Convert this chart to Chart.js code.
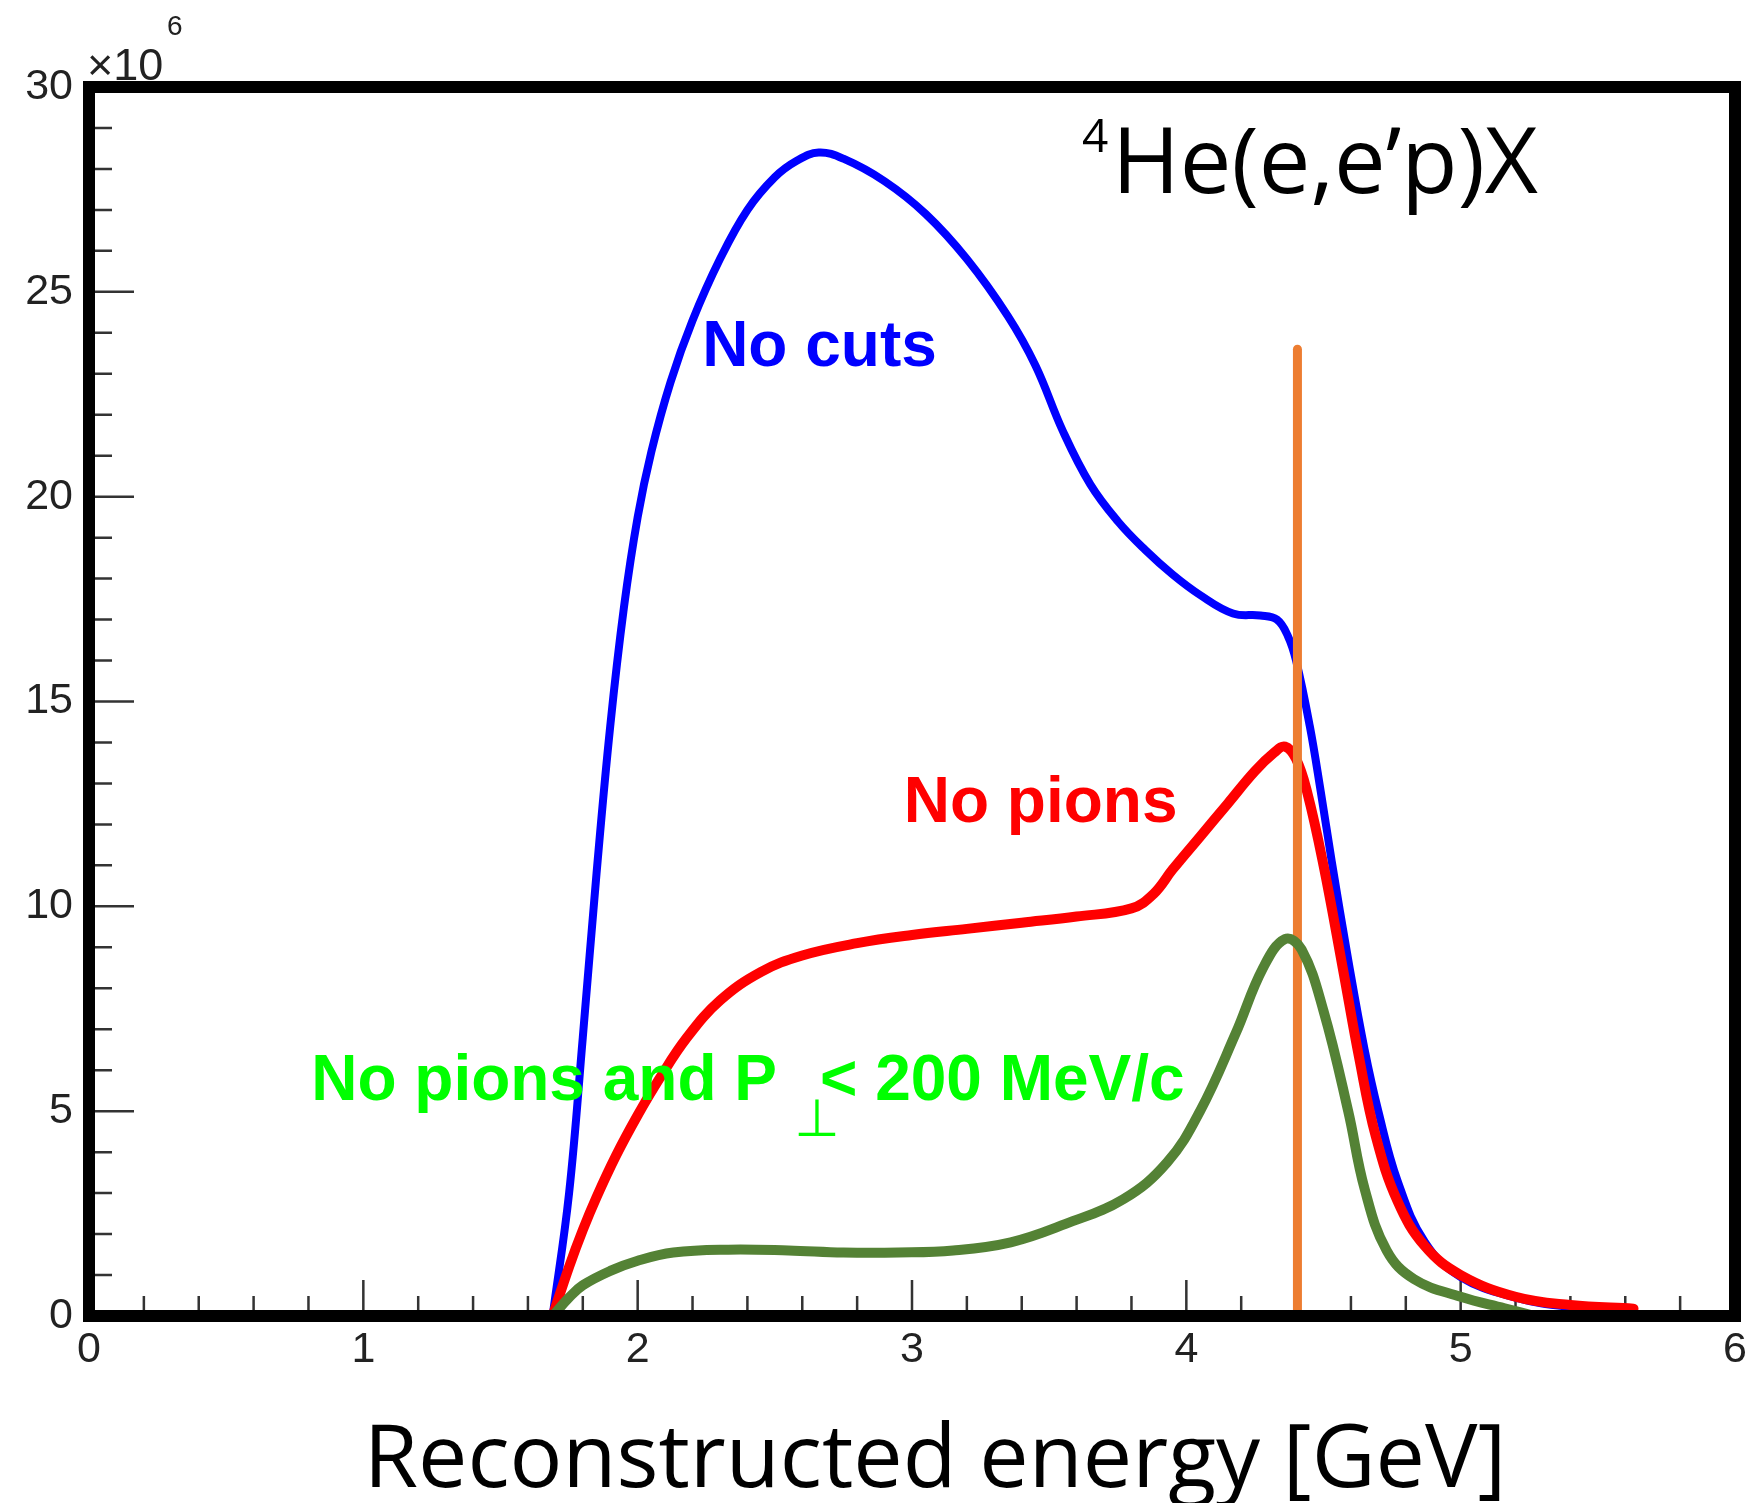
<!DOCTYPE html>
<html>
<head>
<meta charset="utf-8">
<title>Reconstructed energy</title>
<script src="https://cdn.jsdelivr.net/npm/chart.js@4.4.1/dist/chart.umd.min.js"></script>
<style>
  html, body { margin: 0; padding: 0; background: #fff; }
  #wrap { width: 1760px; height: 1503px; }
</style>
</head>
<body>
<div id="wrap"><canvas id="energyChart" width="1760" height="1503"></canvas></div>
<script>
// counts in units of 10^6 against reconstructed energy (GeV)
const noCutsE = [1.69, 1.75, 1.80, 1.85, 1.90, 1.95, 2.00, 2.05, 2.12, 2.20, 2.30, 2.40, 2.50, 2.58, 2.66, 2.75, 2.90, 3.05, 3.20, 3.35, 3.45, 3.55, 3.65, 3.75, 3.85, 3.95, 4.05, 4.17, 4.27, 4.33, 4.37, 4.40, 4.45, 4.49, 4.53, 4.59, 4.65, 4.70, 4.77, 4.87, 5.00, 5.20, 5.40, 5.63];
const noCutsN = [0, 3.0, 6.8, 10.8, 14.4, 17.3, 19.5, 21.1, 22.8, 24.3, 25.8, 27.0, 27.8, 28.2, 28.4, 28.25, 27.7, 26.9, 25.8, 24.4, 23.2, 21.6, 20.3, 19.4, 18.7, 18.1, 17.6, 17.15, 17.1, 17.0, 16.6, 16.0, 14.4, 12.8, 11.1, 8.7, 6.5, 5.0, 3.3, 1.8, 0.95, 0.45, 0.22, 0.12];

const noPionsE = [1.69, 1.75, 1.80, 1.85, 1.92, 2.00, 2.08, 2.18, 2.30, 2.45, 2.60, 2.80, 3.00, 3.20, 3.40, 3.60, 3.80, 3.88, 3.95, 4.05, 4.15, 4.25, 4.32, 4.36, 4.40, 4.44, 4.50, 4.57, 4.63, 4.69, 4.77, 4.87, 5.00, 5.20, 5.40, 5.63];
const noPionsN = [0, 1.2, 2.1, 2.9, 3.9, 4.9, 5.8, 6.8, 7.7, 8.4, 8.8, 9.1, 9.3, 9.45, 9.6, 9.75, 9.95, 10.3, 10.9, 11.7, 12.5, 13.3, 13.75, 13.9, 13.6, 12.8, 11.0, 8.5, 6.3, 4.4, 2.8, 1.7, 1.0, 0.47, 0.27, 0.18];

const lowPperpE = [1.69, 1.75, 1.80, 1.90, 2.00, 2.13, 2.33, 2.55, 2.75, 2.95, 3.15, 3.36, 3.56, 3.77, 3.93, 4.05, 4.18, 4.28, 4.36, 4.42, 4.50, 4.59, 4.65, 4.73, 4.83, 5.00, 5.16, 5.27];
const lowPperpN = [0, 0.45, 0.75, 1.1, 1.35, 1.55, 1.62, 1.6, 1.55, 1.55, 1.6, 1.8, 2.25, 2.85, 3.75, 5.0, 6.9, 8.5, 9.2, 8.95, 7.45, 5.0, 3.1, 1.6, 0.9, 0.47, 0.19, 0.0];

// beam energy marker
const beamE = [4.405, 4.405];
const beamN = [0, 23.6];

const xTickValues = [0, 1, 2, 3, 4, 5, 6];
const yTickValues = [0, 5, 10, 15, 20, 25, 30];

function toPoints(xs, ys) {
  return xs.map((x, i) => ({ x: x, y: ys[i] }));
}

const labelFont = '"Liberation Sans", Arial, sans-serif';
const textFont = '"Open Sans", sans-serif';

// ROOT-like frame: inward ticks, thick box, exponent and labels
const rootFrame = {
  id: 'rootFrame',
  beforeDatasetsDraw(chart) {
    const { ctx, chartArea: a, scales: { x, y } } = chart;
    ctx.save();
    ctx.strokeStyle = '#333';
    ctx.lineWidth = 2.5;
    ctx.beginPath();
    for (let i = 0; i <= 30; i++) {
      const py = y.getPixelForValue(i);
      const len = i % 5 === 0 ? 45 : 23;
      ctx.moveTo(a.left, py);
      ctx.lineTo(a.left + len, py);
    }
    for (let i = 0; i <= 30; i++) {
      const px = x.getPixelForValue(i * 0.2);
      const len = i % 5 === 0 ? 36 : 20;
      ctx.moveTo(px, a.bottom);
      ctx.lineTo(px, a.bottom - len);
    }
    ctx.stroke();
    ctx.restore();
  },
  afterDatasetsDraw(chart) {
    const { ctx, chartArea: a, scales: { x, y } } = chart;
    ctx.save();
    ctx.lineWidth = 12;
    ctx.strokeStyle = '#000';
    ctx.strokeRect(a.left, a.top, a.right - a.left, a.bottom - a.top);

    // exponent of the y axis
    ctx.fillStyle = '#222';
    ctx.textBaseline = 'alphabetic';
    ctx.textAlign = 'left';
    ctx.font = '45px ' + labelFont;
    ctx.fillText('\u00d710', a.left - 2, a.top - 7);
    ctx.font = '28px ' + labelFont;
    ctx.fillText('6', a.left + 78, a.top - 52);

    // curve labels
    ctx.font = 'bold 64px ' + labelFont;
    ctx.fillStyle = '#0000ff';
    ctx.fillText('No cuts', x.getPixelForValue(2.235), y.getPixelForValue(23.2));
    ctx.fillStyle = '#ff0000';
    ctx.fillText('No pions', x.getPixelForValue(2.97), y.getPixelForValue(12.05));

    ctx.fillStyle = '#00ff00';
    const gx = x.getPixelForValue(0.81);
    const gy = y.getPixelForValue(5.27);
    const head = 'No pions and P';
    ctx.fillText(head, gx, gy);
    const pEnd = gx + ctx.measureText(head).width;
    ctx.fillText('< 200 MeV/c', pEnd + 43, gy);
    ctx.font = '52px "DejaVu Sans", sans-serif';
    ctx.textAlign = 'center';
    ctx.fillText('\u22a5', pEnd + 40, gy + 36);

    // reaction
    ctx.textAlign = 'left';
    ctx.fillStyle = '#000';
    ctx.font = '46px ' + textFont;
    ctx.fillText('4', 1082, 152);
    ctx.font = '92px ' + textFont;
    ctx.fillText('He(e,e\u2019p)X', 1112, 193);

    // axis title
    ctx.textAlign = 'center';
    ctx.font = '88px ' + textFont;
    ctx.fillText('Reconstructed energy [GeV]', (a.left + a.right) / 2 + 23, 1487);
    ctx.restore();
  }
};

const ctx = document.getElementById('energyChart').getContext('2d');

const data = {
  datasets: [{
    label: 'No pions and P\u22a5 < 200 MeV/c',
    data: toPoints(lowPperpE, lowPperpN),
    borderColor: '#548235',
    borderWidth: 10,
    tension: 0.4
  }, {
    label: 'Beam energy',
    data: toPoints(beamE, beamN),
    borderColor: '#ed7d31',
    borderWidth: 9,
    tension: 0
  }, {
    label: 'No pions',
    data: toPoints(noPionsE, noPionsN),
    borderColor: '#ff0000',
    borderWidth: 10,
    tension: 0.4
  }, {
    label: 'No cuts',
    data: toPoints(noCutsE, noCutsN),
    borderColor: '#0000ff',
    borderWidth: 8,
    tension: 0.4
  }]
};

const config = {
  type: 'line',
  data: data,
  options: {
    responsive: false,
    animation: false,
    devicePixelRatio: 1,
    layout: {
      padding: { top: 87, right: 25, left: 0, bottom: 0 }
    },
    elements: {
      point: { radius: 0 },
      line: { fill: false, borderCapStyle: 'round', borderJoinStyle: 'round' }
    },
    plugins: {
      legend: { display: false },
      tooltip: { enabled: false }
    },
    scales: {
      x: {
        type: 'linear',
        min: 0,
        max: 6,
        afterFit: (scale) => { scale.height = 187; },
        afterBuildTicks: (scale) => { scale.ticks = xTickValues.map(v => ({ value: v })); },
        grid: { display: false, drawTicks: false },
        border: { display: false },
        ticks: {
          padding: 8,
          color: '#222',
          font: { family: 'Liberation Sans', size: 43 }
        }
      },
      y: {
        type: 'linear',
        min: 0,
        max: 30,
        afterFit: (scale) => { scale.width = 89; },
        afterBuildTicks: (scale) => { scale.ticks = yTickValues.map(v => ({ value: v })); },
        grid: { display: false, drawTicks: false },
        border: { display: false },
        ticks: {
          padding: 16,
          color: '#222',
          font: { family: 'Liberation Sans', size: 43 }
        }
      }
    }
  },
  plugins: [rootFrame]
};

const energyChart = new Chart(ctx, config);
</script>
</body>
</html>
